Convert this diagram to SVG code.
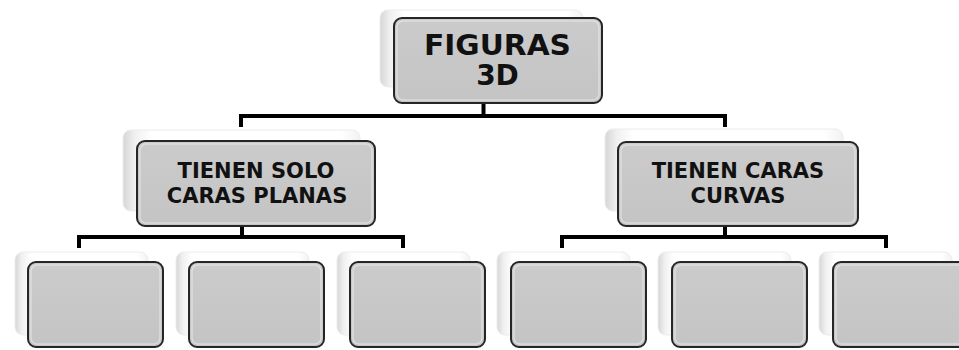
<svg xmlns="http://www.w3.org/2000/svg" width="959" height="350" viewBox="0 0 959 350">
<defs>
<linearGradient id="backg" x1="0" y1="0" x2="1" y2="0">
<stop offset="0" stop-color="#d6d6d6"/>
<stop offset="0.05" stop-color="#f0f0f0"/>
<stop offset="0.12" stop-color="#ffffff"/>
<stop offset="0.92" stop-color="#ffffff"/>
<stop offset="1" stop-color="#f2f2f2"/>
</linearGradient>
<linearGradient id="frontg" x1="0" y1="0" x2="0" y2="1">
<stop offset="0" stop-color="#cbcbcb"/>
<stop offset="1" stop-color="#c4c4c4"/>
</linearGradient>
</defs>
<style>
.back{fill:url(#backg);stroke:#ececec;stroke-width:1}
.front{fill:url(#frontg);stroke:#262626;stroke-width:2}
.hl{fill:none;stroke:#e6eef4;stroke-opacity:0.6;stroke-width:1.5}
.conn{fill:none;stroke:#000;stroke-width:4}
.t{font-family:"DejaVu Sans","Verdana",sans-serif;font-weight:bold;fill:#111;text-anchor:middle}
.t1{font-size:28px}
.t2{font-size:21px}
</style>
<rect width="959" height="350" fill="#fff"/>
<g id="connectors">
<path class="conn" d="M483.5 100 V116 M241 127 V116 H725 V127"/>
<path class="conn" d="M242 222 V237 M79 248 V237 H403 V248"/>
<path class="conn" d="M725 222 V237 M562 248 V237 H886 V248"/>
</g>
<g id="figuras3d">
<rect class="back" x="380" y="10" width="203" height="77" rx="8"/>
<rect class="front" x="394" y="18" width="208" height="85" rx="8"/>
<rect class="hl" x="397" y="21" width="202" height="79" rx="6"/>
<text class="t t1" x="497.5" y="55" textLength="147" lengthAdjust="spacingAndGlyphs">FIGURAS</text>
<text class="t t1" x="497.5" y="85">3D</text>
</g>
<g id="planas">
<rect class="back" x="123" y="130" width="237" height="81" rx="8"/>
<rect class="front" x="137" y="141" width="238" height="85" rx="8"/>
<rect class="hl" x="140" y="144" width="232" height="79" rx="6"/>
<text class="t t2" x="256" y="178">TIENEN SOLO</text>
<text class="t t2" x="257" y="203">CARAS PLANAS</text>
</g>
<g id="curvas">
<rect class="back" x="605" y="129" width="238" height="82" rx="8"/>
<rect class="front" x="618" y="142" width="240" height="84" rx="8"/>
<rect class="hl" x="621" y="145" width="234" height="78" rx="6"/>
<text class="t t2" x="738" y="178">TIENEN CARAS</text>
<text class="t t2" x="738" y="203">CURVAS</text>
</g>
<g id="box1">
<rect class="back" x="15" y="252" width="133" height="83" rx="8"/>
<rect class="front" x="28" y="262" width="135" height="85" rx="8"/>
<rect class="hl" x="31" y="265" width="129" height="79" rx="6"/>
</g>
<g id="box2">
<rect class="back" x="176" y="252" width="133" height="83" rx="8"/>
<rect class="front" x="189" y="262" width="135" height="85" rx="8"/>
<rect class="hl" x="192" y="265" width="129" height="79" rx="6"/>
</g>
<g id="box3">
<rect class="back" x="337" y="252" width="133" height="83" rx="8"/>
<rect class="front" x="350" y="262" width="135" height="85" rx="8"/>
<rect class="hl" x="353" y="265" width="129" height="79" rx="6"/>
</g>
<g id="box4">
<rect class="back" x="497" y="252" width="133" height="83" rx="8"/>
<rect class="front" x="511" y="262" width="135" height="85" rx="8"/>
<rect class="hl" x="514" y="265" width="129" height="79" rx="6"/>
</g>
<g id="box5">
<rect class="back" x="658" y="252" width="133" height="83" rx="8"/>
<rect class="front" x="672" y="262" width="135" height="85" rx="8"/>
<rect class="hl" x="675" y="265" width="129" height="79" rx="6"/>
</g>
<g id="box6">
<rect class="back" x="819" y="252" width="133" height="83" rx="8"/>
<rect class="front" x="833" y="262" width="135" height="85" rx="8"/>
<rect class="hl" x="836" y="265" width="129" height="79" rx="6"/>
</g>
</svg>
